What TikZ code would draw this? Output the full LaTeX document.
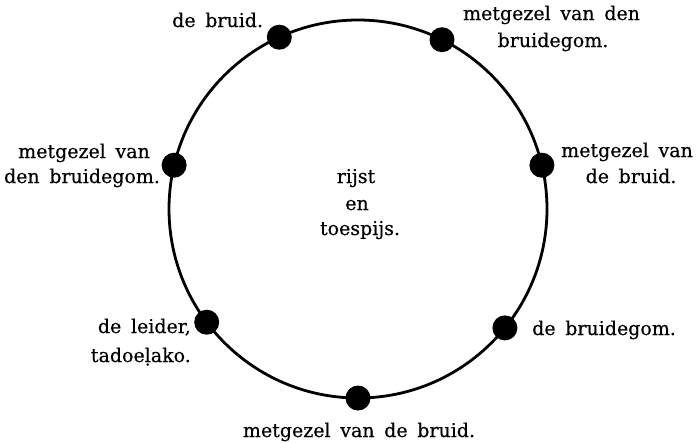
\documentclass[tikz,border=0pt]{standalone}
\usepackage{fontspec}
\setmainfont{DejaVu Serif}[WordSpace=1.6,FakeBold=0.4]
\begin{document}
\begin{tikzpicture}[x=1pt,y=-1pt,
  dot/.style={circle,fill=black,inner sep=0pt,minimum size=25pt},
  lbl/.style={font=\fontsize{19}{23}\selectfont,inner sep=0pt}]
\useasboundingbox (0,0) rectangle (700,442);
\coordinate (c) at (358,209);
\draw[line width=2.8pt] (c) circle[radius=189pt];
\node[dot] (d1) at (279.3,37.2) {};
\node[dot] (d2) at (442.0,39.7) {};
\node[dot] (d3) at (174.1,165.2) {};
\node[dot] (d4) at (541.9,165.2) {};
\node[dot] (d5) at (206.7,322.2) {};
\node[dot] (d6) at (504.9,327.9) {};
\node[dot] (d7) at (358,398) {};
\node[lbl,anchor=base west] (t1) at (172,27) {de bruid.};
\node[lbl,anchor=base] (t2a) at (551.5,20) {metgezel van den};
\node[lbl,anchor=base] (t2b) at (553,47) {bruidegom.};
\node[lbl,anchor=base] (t3a) at (84,158) {metgezel van};
\node[lbl,anchor=base] (t3b) at (82,183) {den bruidegom.};
\node[lbl,anchor=base] (t4a) at (627,157) {metgezel van};
\node[lbl,anchor=base] (t4b) at (631,183) {de bruid.};
\node[lbl,anchor=base] (m1) at (356,183) {rijst};
\node[lbl,anchor=base] (m2) at (357,210) {en};
\node[lbl,anchor=base] (m3) at (360,235) {toespijs.};
\node[lbl,anchor=base east] (t5a) at (191,333) {de leider,};
\node[lbl,anchor=base east] (t5b) at (191,362) {tadoeḷako.};
\node[lbl,anchor=base west] (t6) at (532,335) {de bruidegom.};
\node[lbl,anchor=base] (t7) at (359,437) {metgezel van de bruid.};
\end{tikzpicture}
\end{document}
